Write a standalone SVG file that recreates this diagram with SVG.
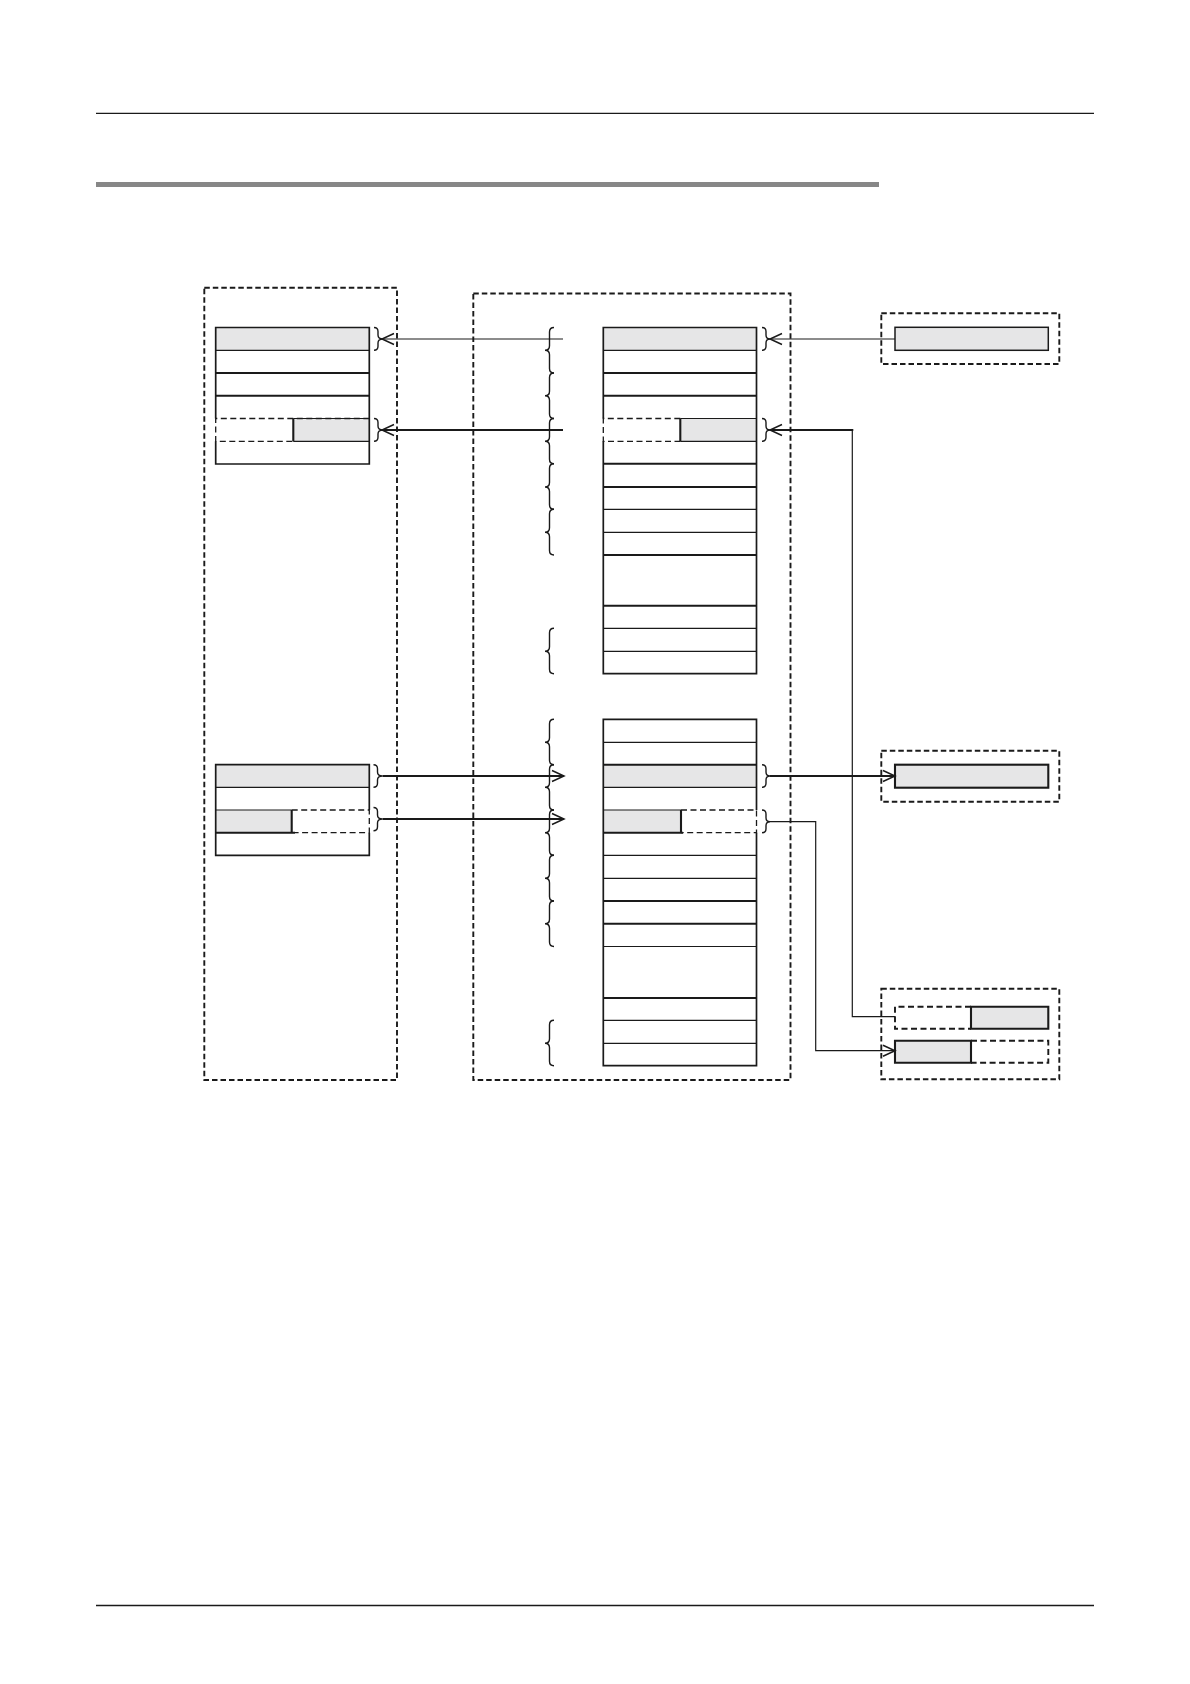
<svg xmlns="http://www.w3.org/2000/svg" width="1190" height="1684" viewBox="0 0 1190 1684">
<style>
.frame{fill:none;stroke:#1a1a1a;stroke-width:1.9;stroke-dasharray:5.5 3}
.bd{fill:none;stroke:#1a1a1a;stroke-width:1.7}
.tn{fill:none;stroke:#1a1a1a;stroke-width:1.2}
.tk{fill:none;stroke:#1a1a1a;stroke-width:2.1}
.ds{fill:none;stroke:#1a1a1a;stroke-width:1.3;stroke-dasharray:6 3.5}
.dsk{fill:none;stroke:#1a1a1a;stroke-width:1.9;stroke-dasharray:6 3.5}
.g{fill:#e6e6e7;stroke:none}
.br{fill:none;stroke:#1a1a1a;stroke-width:1.4}
.c1{fill:none;stroke:#1a1a1a;stroke-width:1.2}
.c2{fill:none;stroke:#1a1a1a;stroke-width:2.1}
</style>
<defs>
<marker id="arr" markerUnits="userSpaceOnUse" markerWidth="16" markerHeight="16" viewBox="-2 -8 16 16" refX="12" refY="0" orient="auto" overflow="visible">
<path d="M0,-5.5 L12,0 L0,5.5" fill="none" stroke="#1a1a1a" stroke-width="1.5"/>
</marker>
</defs>
<rect width="1190" height="1684" fill="#ffffff"/>
<g id="page">
<line x1="96" y1="113.3" x2="1094" y2="113.3" stroke="#1a1a1a" stroke-width="1.3"/>
<rect x="96" y="182" width="783" height="5" fill="#878787"/>
<line x1="96" y1="1605.5" x2="1094" y2="1605.5" stroke="#1a1a1a" stroke-width="1.3"/>
</g>

<g id="frames">
<rect id="frame-left" class="frame" x="204.3" y="287.7" width="192.7" height="792.3"/>
<rect id="frame-center" class="frame" x="473.3" y="293.5" width="317.2" height="786.5"/>
<rect id="frame-right-top" class="frame" x="881.3" y="313.3" width="178" height="50.7"/>
<rect id="frame-right-mid" class="frame" x="881.3" y="750.7" width="178" height="51"/>
<rect id="frame-right-bot" class="frame" x="881.3" y="988.7" width="178" height="90.6"/>
</g>

<g id="left-upper-table">
<rect class="g" x="215.7" y="327.5" width="153.6" height="22.8"/>
<rect class="g" x="293.3" y="418.5" width="76" height="22.8"/>
<path class="bd" d="M215.7,418.5 V327.5 H369.3 V464 H215.7 V441.3"/>
<line class="tn" x1="215.7" y1="350.3" x2="369.3" y2="350.3"/>
<line class="tk" x1="215.7" y1="373" x2="369.3" y2="373"/>
<line class="tk" x1="215.7" y1="395.7" x2="369.3" y2="395.7"/>
<path class="ds" d="M369.3,418.5 H215.7 V441.3 H293.3"/>
<path class="tk" d="M293.3,418.5 V441.3"/>
<path class="tn" d="M293.3,441.3 H369.3 M293.3,418.5 H369.3"/>
</g>

<g id="left-lower-table">
<rect class="g" x="215.7" y="764.7" width="153.6" height="22.6"/>
<rect class="g" x="215.7" y="810" width="76" height="22.7"/>
<path class="bd" d="M369.3,810 V764.7 H215.7 V855.3 H369.3 V832.7"/>
<line class="tn" x1="215.7" y1="787.3" x2="369.3" y2="787.3"/>
<path class="tn" d="M215.7,810 H291.7"/>
<path class="ds" d="M291.7,810 H369.3 V832.7 H295"/>
<path class="tk" d="M215.7,832.7 H295 M291.7,810 V832.7"/>
</g>

<g id="center-upper-table">
<rect class="g" x="603.3" y="327.5" width="153.2" height="22.8"/>
<rect class="g" x="680.3" y="418.5" width="76.2" height="22.8"/>
<path class="bd" d="M603.3,418.5 V327.5 H756.5 V673.7 H603.3 V441.3"/>
<line class="tn" x1="603.3" y1="350.3" x2="756.5" y2="350.3"/>
<line class="tk" x1="603.3" y1="373" x2="756.5" y2="373"/>
<line class="tk" x1="603.3" y1="395.7" x2="756.5" y2="395.7"/>
<path class="ds" d="M680.3,418.5 H603.3 V441.3 H680.3"/>
<path class="tn" d="M680.3,418.5 H756.5 M680.3,441.3 H756.5"/>
<path class="tk" d="M680.3,418.5 V441.3"/>
<line class="tk" x1="603.3" y1="463.7" x2="756.5" y2="463.7"/>
<line class="tk" x1="603.3" y1="487" x2="756.5" y2="487"/>
<line class="tn" x1="603.3" y1="509.3" x2="756.5" y2="509.3"/>
<line class="tn" x1="603.3" y1="532.3" x2="756.5" y2="532.3"/>
<line class="tk" x1="603.3" y1="555" x2="756.5" y2="555"/>
<line class="tk" x1="603.3" y1="605.7" x2="756.5" y2="605.7"/>
<line class="tn" x1="603.3" y1="628.3" x2="756.5" y2="628.3"/>
<line class="tn" x1="603.3" y1="651.3" x2="756.5" y2="651.3"/>
</g>

<g id="center-lower-table">
<rect class="g" x="603.3" y="764.7" width="153.2" height="22.6"/>
<rect class="g" x="603.3" y="810" width="77.7" height="22.7"/>
<path class="bd" d="M756.5,810 V719.3 H603.3 V1065.7 H756.5 V832.7"/>
<line class="tn" x1="603.3" y1="742.3" x2="756.5" y2="742.3"/>
<line class="tk" x1="603.3" y1="764.7" x2="756.5" y2="764.7"/>
<line class="tn" x1="603.3" y1="787.3" x2="756.5" y2="787.3"/>
<path class="tn" d="M603.3,810 H681"/>
<path class="ds" d="M681,810 H756.5 V832.7 H681"/>
<path class="tk" d="M603.3,832.7 H683 M681,810 V832.7"/>
<line class="tn" x1="603.3" y1="855.3" x2="756.5" y2="855.3"/>
<line class="tn" x1="603.3" y1="878.3" x2="756.5" y2="878.3"/>
<line class="tk" x1="603.3" y1="901" x2="756.5" y2="901"/>
<line class="tk" x1="603.3" y1="923.7" x2="756.5" y2="923.7"/>
<line class="tn" x1="603.3" y1="946.5" x2="756.5" y2="946.5"/>
<line class="tk" x1="603.3" y1="998" x2="756.5" y2="998"/>
<line class="tn" x1="603.3" y1="1020.3" x2="756.5" y2="1020.3"/>
<line class="tn" x1="603.3" y1="1043.3" x2="756.5" y2="1043.3"/>
</g>

<g id="right-top-box">
<rect x="895" y="327.3" width="153.3" height="23" fill="#e6e6e7" stroke="#1a1a1a" stroke-width="1.5"/>
</g>
<g id="right-mid-box">
<rect x="895" y="764.7" width="153.3" height="23" fill="#e6e6e7" stroke="#1a1a1a" stroke-width="2.1"/>
</g>
<g id="right-bottom-box">
<rect class="g" x="971" y="1006.7" width="77.3" height="22"/>
<path class="dsk" d="M971,1006.7 H895 V1028.7 H971"/>
<path class="tk" d="M971,1006.7 H1048.3 V1028.7 H971 Z"/>
<rect class="g" x="895" y="1040.7" width="76" height="22"/>
<path class="tk" d="M971,1040.7 H895 V1062.7 H971 Z"/>
<path class="dsk" d="M971,1040.7 H1048.3 V1062.7 H971"/>
</g>

<g id="braces">
<path class="br" d="M374,327.5 Q378,327.5 378,331.5 V335 Q378,339 383,339 Q378,339 378,343 V346.3 Q378,350.3 374,350.3"/>
<path class="br" d="M374,418.5 Q378,418.5 378,422.5 V426 Q378,430 383,430 Q378,430 378,434 V437.3 Q378,441.3 374,441.3"/>
<path class="br" d="M373.5,764.7 Q377.5,764.7 377.5,768.7 V772 Q377.5,776 382.5,776 Q377.5,776 377.5,780 V783.3 Q377.5,787.3 373.5,787.3"/>
<path class="br" d="M373.5,807.5 Q377.5,807.5 377.5,811.5 V815 Q377.5,819 382.5,819 Q377.5,819 377.5,823 V826.7 Q377.5,830.7 373.5,830.7"/>
<path class="br" d="M762,327.5 Q766,327.5 766,331.5 V335 Q766,339 770,339 Q766,339 766,343 V346.3 Q766,350.3 762,350.3"/>
<path class="br" d="M762,418.5 Q766,418.5 766,422.5 V426 Q766,430 770,430 Q766,430 766,434 V437.3 Q766,441.3 762,441.3"/>
<path class="br" d="M762,764.7 Q766,764.7 766,768.7 V772 Q766,776 770,776 Q766,776 766,780 V783.3 Q766,787.3 762,787.3"/>
<path class="br" d="M762,810 Q766,810 766,814 V817.7 Q766,821.7 770,821.7 Q766,821.7 766,825.7 V828.7 Q766,832.7 762,832.7"/>
<path class="br" d="M554,327.5 Q549.5,327.5 549.5,332 V345.8 Q549.5,350.3 545,350.3 Q549.5,350.3 549.5,354.8 V368.5 Q549.5,373 554,373"/>
<path class="br" d="M554,373 Q549.5,373 549.5,377.5 V391.2 Q549.5,395.7 545,395.7 Q549.5,395.7 549.5,400.2 V414 Q549.5,418.5 554,418.5"/>
<path class="br" d="M554,418.5 Q549.5,418.5 549.5,423 V436.8 Q549.5,441.3 545,441.3 Q549.5,441.3 549.5,445.8 V459.2 Q549.5,463.7 554,463.7"/>
<path class="br" d="M554,463.7 Q549.5,463.7 549.5,468.2 V482.5 Q549.5,487 545,487 Q549.5,487 549.5,491.5 V504.8 Q549.5,509.3 554,509.3"/>
<path class="br" d="M554,509.3 Q549.5,509.3 549.5,513.8 V527.8 Q549.5,532.3 545,532.3 Q549.5,532.3 549.5,536.8 V550.5 Q549.5,555 554,555"/>
<path class="br" d="M554,628.3 Q549.5,628.3 549.5,632.8 V646.8 Q549.5,651.3 545,651.3 Q549.5,651.3 549.5,655.8 V669.2 Q549.5,673.7 554,673.7"/>
<path class="br" d="M554,719.3 Q549.5,719.3 549.5,723.8 V737.8 Q549.5,742.3 545,742.3 Q549.5,742.3 549.5,746.8 V760.2 Q549.5,764.7 554,764.7"/>
<path class="br" d="M554,764.7 Q549.5,764.7 549.5,769.2 V782.8 Q549.5,787.3 545,787.3 Q549.5,787.3 549.5,791.8 V805.5 Q549.5,810 554,810"/>
<path class="br" d="M554,810 Q549.5,810 549.5,814.5 V828.2 Q549.5,832.7 545,832.7 Q549.5,832.7 549.5,837.2 V850.8 Q549.5,855.3 554,855.3"/>
<path class="br" d="M554,855.3 Q549.5,855.3 549.5,859.8 V873.8 Q549.5,878.3 545,878.3 Q549.5,878.3 549.5,882.8 V896.5 Q549.5,901 554,901"/>
<path class="br" d="M554,901 Q549.5,901 549.5,905.5 V919.2 Q549.5,923.7 545,923.7 Q549.5,923.7 549.5,928.2 V942 Q549.5,946.5 554,946.5"/>
<path class="br" d="M554,1020.3 Q549.5,1020.3 549.5,1024.8 V1038.8 Q549.5,1043.3 545,1043.3 Q549.5,1043.3 549.5,1047.8 V1061.2 Q549.5,1065.7 554,1065.7"/>
</g>

<g id="connectors">
<path class="c1" d="M563,339 H382" marker-end="url(#arr)"/>
<path class="c2" d="M563,430 H382" marker-end="url(#arr)"/>
<path class="c1" d="M895,339 H770" marker-end="url(#arr)"/>
<path class="c1" d="M895,1016.7 H852.3 V430"/>
<path class="c2" d="M853.3,430 H770" marker-end="url(#arr)"/>
<path class="c2" d="M382.5,776 H564" marker-end="url(#arr)"/>
<path class="c2" d="M382.5,819 H564" marker-end="url(#arr)"/>
<path class="c2" d="M770,776 H895" marker-end="url(#arr)"/>
<path class="c1" d="M770,821.7 H815.7 V1050.7 H895" marker-end="url(#arr)"/>
</g>
</svg>
